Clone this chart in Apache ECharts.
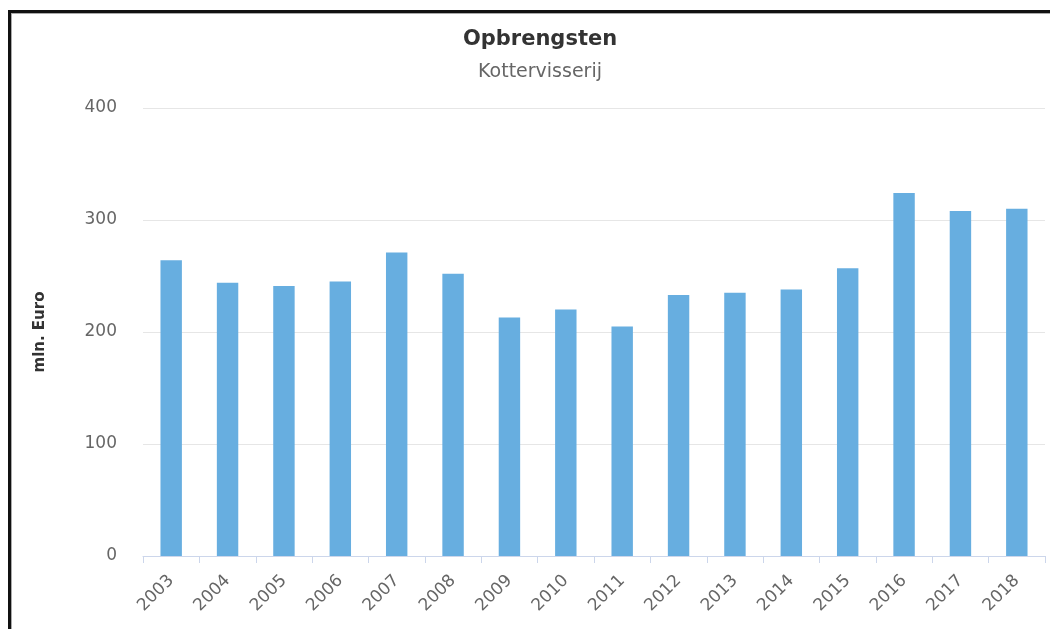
<!DOCTYPE html>
<html>
<head>
<meta charset="utf-8">
<script src="https://cdn.jsdelivr.net/npm/echarts@6/dist/echarts.min.js"></script>
<style>
    html, body { margin: 0; padding: 0; overflow: hidden; background: #fff; }
    #main { width: 1050px; height: 629px; position: absolute; left: 0; top: 0; }
    #frame {
        position: absolute; left: 8px; top: 10px; width: 1200px; height: 800px;
        border-left: 3px solid #111; border-top: 3px solid #111;
        box-shadow: inset 1px 1px 0 #aaa; pointer-events: none;
    }
</style>
</head>
<body>
<div id="main"></div>
<div id="frame"></div>
<script>
var myChart = echarts.init(document.getElementById('main'));

// jaren en opbrengsten (mln. Euro)
var years = ['2003', '2004', '2005', '2006', '2007', '2008', '2009', '2010',
    '2011', '2012', '2013', '2014', '2015', '2016', '2017', '2018'];
var revenue = [264, 244, 241, 245, 271, 252, 213, 220, 205, 233, 235, 238, 257, 324, 308, 310];

var fontFamily = '"DejaVu Sans", Verdana, sans-serif';

option = {
    color: ['#67aee0'],
    textStyle: { fontFamily: fontFamily },
    title: {
        text: 'Opbrengsten',
        subtext: 'Kottervisserij',
        left: 535,
        textAlign: 'center',
        top: 24,
        itemGap: 13,
        textStyle: { fontSize: 21, fontWeight: 'bold', color: '#333', fontFamily: fontFamily },
        subtextStyle: { fontSize: 19, color: '#666', fontFamily: fontFamily }
    },
    grid: {
        left: 143,
        right: 5,
        top: 108,
        bottom: 73,
        containLabel: false
    },
    xAxis: {
        type: 'category',
        data: years,
        axisLine: { lineStyle: { color: '#ccd6eb', width: 1 } },
        axisTick: { show: true, length: 7, lineStyle: { color: '#ccd6eb' } },
        axisLabel: {
            rotate: 45,
            color: '#666',
            fontSize: 17,
            margin: 22,
            interval: 0
        }
    },
    yAxis: {
        type: 'value',
        min: 0,
        max: 400,
        interval: 100,
        name: 'mln. Euro',
        nameLocation: 'middle',
        nameGap: 95,
        nameTextStyle: { fontWeight: 'bold', fontSize: 15, color: '#333' },
        axisLine: { show: false },
        axisTick: { show: false },
        axisLabel: { color: '#666', fontSize: 17, margin: 26 },
        splitLine: { lineStyle: { color: '#e6e6e6' } }
    },
    series: [
        {
            name: 'Opbrengsten',
            type: 'bar',
            barWidth: '38%',
            data: revenue
        }
    ]
};
myChart.setOption(option);
</script>
</body>
</html>
